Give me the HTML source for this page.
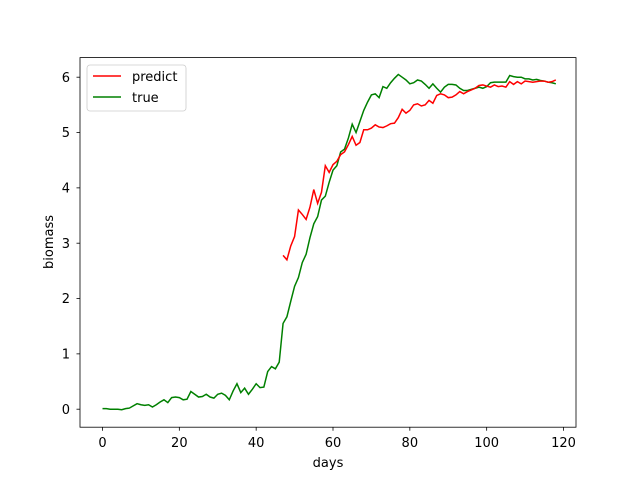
<!DOCTYPE html>
<html><head><meta charset="utf-8"><style>body{margin:0;background:#fff}svg{display:block;font-family:"DejaVu Sans","Liberation Sans",sans-serif}</style></head>
<body>
<svg id="chart" width="640" height="480">
<rect x="0" y="0" width="640" height="480" fill="#fff"/>
<g id="plot"></g>
<rect x="80" y="57.6" width="496" height="369.6" fill="none" stroke="#000" stroke-width="0.8"/>
<g id="xticks"></g>
<g id="yticks"></g>
<text x="328" y="467" font-size="13" text-anchor="middle">days</text>
<text x="53" y="242" font-size="13" text-anchor="middle" transform="rotate(-90 53 242)">biomass</text>
<g>
<rect x="87" y="65" width="99" height="46" rx="3" fill="#fff" fill-opacity="0.8" stroke="#ccc" stroke-width="0.8"/>
<line x1="93" y1="76" x2="121" y2="76" stroke="red" stroke-width="1.5"/>
<text x="132" y="81" font-size="13">predict</text>
<line x1="93" y1="97" x2="121" y2="97" stroke="green" stroke-width="1.5"/>
<text x="132" y="102" font-size="13">true</text>
</g>
</svg>
<script>
const trueVals=[0.01,0.01,0.0,0.0,0.0,-0.01,0.01,0.02,0.06,0.1,0.08,0.07,0.08,0.04,0.08,0.13,0.17,0.12,0.21,0.22,0.21,0.17,0.18,0.32,0.27,0.22,0.23,0.27,0.22,0.2,0.27,0.29,0.25,0.17,0.33,0.46,0.3,0.38,0.27,0.36,0.46,0.39,0.4,0.68,0.77,0.73,0.85,1.55,1.67,1.95,2.22,2.38,2.65,2.8,3.1,3.35,3.48,3.78,3.85,4.1,4.32,4.4,4.65,4.7,4.9,5.15,5.0,5.2,5.4,5.55,5.68,5.7,5.63,5.83,5.8,5.9,5.98,6.05,6.0,5.95,5.88,5.9,5.95,5.93,5.87,5.8,5.88,5.8,5.73,5.82,5.87,5.87,5.86,5.8,5.76,5.76,5.78,5.8,5.82,5.8,5.83,5.9,5.91,5.91,5.91,5.91,6.03,6.01,6.0,6.0,5.97,5.97,5.95,5.96,5.94,5.93,5.91,5.9,5.88];
const predictStart=47;
const predictVals=[2.78,2.7,2.95,3.12,3.6,3.52,3.43,3.65,3.97,3.72,3.92,4.4,4.28,4.42,4.48,4.6,4.65,4.78,4.93,4.77,4.82,5.05,5.05,5.08,5.14,5.1,5.09,5.12,5.16,5.17,5.27,5.42,5.35,5.4,5.5,5.52,5.48,5.5,5.58,5.53,5.67,5.7,5.68,5.63,5.64,5.68,5.74,5.7,5.74,5.77,5.8,5.85,5.86,5.84,5.82,5.86,5.83,5.84,5.82,5.92,5.87,5.92,5.88,5.93,5.92,5.91,5.92,5.93,5.93,5.91,5.92,5.95];
const xTicks=[0,20,40,60,80,100,120];
const yTicks=[0,1,2,3,4,5,6];
const NS="http://www.w3.org/2000/svg";
const xs=d=>102.5+d*(563.5-102.5)/120;
const ys=v=>409.2-v*(409.2-77.2)/6;
function line(vals,start,color,name){
  const p=document.createElementNS(NS,'polyline');
  p.setAttribute('points',vals.map((v,i)=>xs(start+i).toFixed(2)+','+ys(v).toFixed(2)).join(' '));
  p.setAttribute('fill','none');p.setAttribute('stroke',color);p.setAttribute('stroke-width','1.5');
  
  
  document.getElementById('plot').appendChild(p);
}
line(trueVals,0,'green','true-series');
line(predictVals,predictStart,'red','predict-series');
const xg=document.getElementById('xticks');
xTicks.forEach(t=>{
  const l=document.createElementNS(NS,'line');
  l.setAttribute('x1',xs(t));l.setAttribute('x2',xs(t));l.setAttribute('y1',427.2);l.setAttribute('y2',430.7);l.setAttribute('stroke','#000');l.setAttribute('stroke-width','0.8');
  
  
  xg.appendChild(l);
  const tx=document.createElementNS(NS,'text');
  tx.setAttribute('x',xs(t));tx.setAttribute('y',447);tx.setAttribute('font-size','13');tx.setAttribute('text-anchor','middle');tx.textContent=t;
  
  
  xg.appendChild(tx);
});
const yg=document.getElementById('yticks');
yTicks.forEach(t=>{
  const l=document.createElementNS(NS,'line');
  l.setAttribute('x1',76.5);l.setAttribute('x2',80);l.setAttribute('y1',ys(t));l.setAttribute('y2',ys(t));l.setAttribute('stroke','#000');l.setAttribute('stroke-width','0.8');
  
  
  yg.appendChild(l);
  const tx=document.createElementNS(NS,'text');
  tx.setAttribute('x',70);tx.setAttribute('y',ys(t)+4.7);tx.setAttribute('font-size','13');tx.setAttribute('text-anchor','end');tx.textContent=t;
  
  
  yg.appendChild(tx);
});
</script>
</body></html>
